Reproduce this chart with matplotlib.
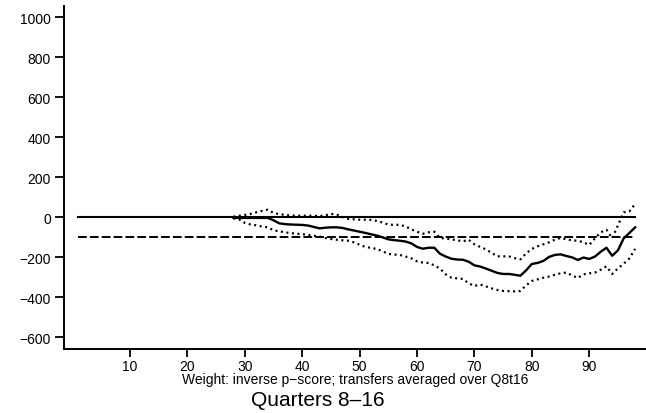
import matplotlib
matplotlib.use('Agg')
import matplotlib.pyplot as plt
import numpy as np

plt.rcParams['font.family'] = ['Liberation Sans', 'DejaVu Sans']

# percentile of p-score and estimated effect with confidence band
percentile = np.arange(28, 99)
estimate = [
    -2, -3, -3, -3, -3, -3, -3, -15, -30, -34,
    -36, -37, -38, -41, -48, -55, -52, -50, -50, -53,
    -60, -66, -72, -78, -85, -91, -100, -110, -114, -117,
    -121, -130, -148, -157, -152, -152, -182, -196, -207, -211,
    -212, -222, -240, -246, -256, -267, -278, -283, -283, -287,
    -292, -265, -233, -228, -218, -198, -188, -185, -193, -200,
    -213, -201, -208, -196, -172, -152, -192, -165, -105, -78,
    -50,
]
upper_ci = [
    3, 8, 12, 17, 25, 32, 38, 22, 16, 12,
    9, 8, 8, 8, 8, 6, 10, 17, 14, 2,
    -8, -10, -12, -12, -13, -18, -26, -36, -38, -37,
    -46, -60, -72, -82, -75, -72, -103, -106, -110, -115,
    -120, -112, -135, -148, -160, -178, -195, -195, -195, -204,
    -210, -180, -158, -145, -135, -125, -112, -103, -110, -115,
    -117, -125, -138, -105, -75, -62, -105, -40, 25, 30,
    67,
]
lower_ci = [
    -5, -10, -28, -36, -40, -46, -50, -65, -70, -75,
    -79, -82, -84, -88, -92, -96, -103, -108, -112, -115,
    -117, -125, -137, -148, -153, -158, -170, -183, -186, -188,
    -196, -205, -220, -226, -228, -240, -256, -285, -302, -305,
    -308, -330, -343, -336, -345, -355, -363, -368, -369, -370,
    -368, -340, -318, -310, -302, -296, -287, -280, -276, -290,
    -303, -285, -280, -276, -262, -245, -283, -255, -232, -205,
    -158,
]
zero_level = 0
mean_level = -97
ref_span = [1, 98]

x_ticks = [10, 20, 30, 40, 50, 60, 70, 80, 90]
y_ticks = [-600, -400, -200, 0, 200, 400, 600, 800, 1000]

fig = plt.figure(figsize=(6.46, 4.14), dpi=100)
ax = fig.add_axes([0.0991, 0.1546, 0.901, 0.8285])

ax.plot(ref_span, [zero_level, zero_level], color='black', linewidth=1.5)
ax.plot(ref_span, [mean_level, mean_level], color='black', linewidth=1.4,
        linestyle=(0, (4.5, 1.6)))
ax.plot(percentile, upper_ci, color='black', linewidth=1.6, linestyle=(0, (0.9, 1.6)))
ax.plot(percentile, lower_ci, color='black', linewidth=1.6, linestyle=(0, (0.9, 1.6)))
ax.plot(percentile, estimate, color='black', linewidth=1.7)

ax.set_xlim(-1.5, 99.9)
ax.set_ylim(-658, 1056)
ax.set_xticks(x_ticks)
ax.set_yticks(y_ticks)
ax.set_yticklabels([str(v).replace('-', '\u2212') for v in y_ticks])

ax.spines['top'].set_visible(False)
ax.spines['right'].set_visible(False)
ax.spines['left'].set_linewidth(1.4)
ax.spines['bottom'].set_linewidth(1.4)
ax.tick_params(axis='x', length=5.5, width=1.3, pad=1.5, labelsize=10)
ax.tick_params(axis='y', length=6.5, width=1.3, pad=3, labelsize=10)

fig.text(0.5495, 1 - 380 / 414, 'Weight: inverse p\u2212score; transfers averaged over Q8t16',
         ha='center', va='center', fontsize=10)
fig.text(0.492, 1 - 401 / 414, 'Quarters 8\u201316', ha='center', va='center', fontsize=15)

plt.savefig('out.png', dpi=100)
